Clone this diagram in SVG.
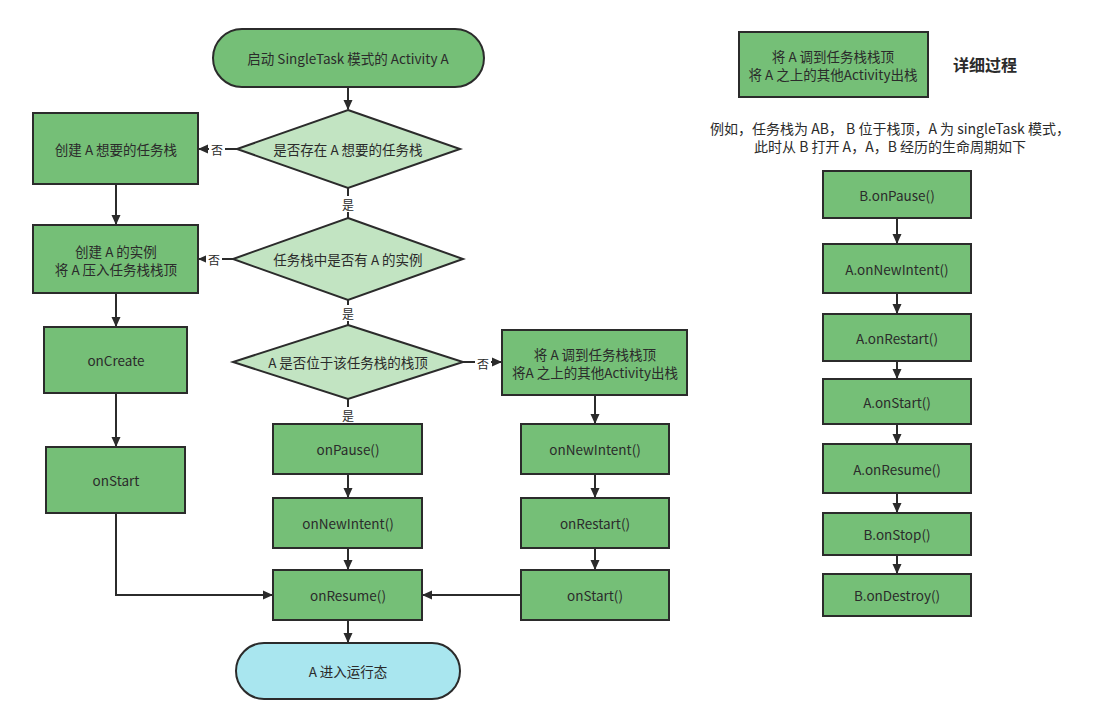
<svg xmlns="http://www.w3.org/2000/svg" width="1095" height="718" viewBox="0 0 1095 718">
<defs>
<marker id="ah" markerWidth="12" markerHeight="12" refX="10" refY="6" orient="auto" markerUnits="userSpaceOnUse">
<path d="M1,1.5 L11,6 L1,10.5 Z" fill="#2b2b2b"/>
</marker>
<style>
.box{fill:#75bf77;stroke:#2b2b2b;stroke-width:2}
.dia{fill:#c2e4c2;stroke:#2b2b2b;stroke-width:2}
.term{fill:#75bf77;stroke:#2b2b2b;stroke-width:2}
.term2{fill:#a9e6ef;stroke:#2b2b2b;stroke-width:2}
text{font-family:"Noto Sans CJK SC","Noto Sans",sans-serif;font-size:13.5px;fill:#2b2b2b;text-anchor:middle;dominant-baseline:central}
.lbl{font-size:12px}
.desc{font-size:14px}
.title{font-size:16px;font-weight:bold}
.ln{fill:none;stroke:#2b2b2b;stroke-width:2}
.ar{fill:none;stroke:#2b2b2b;stroke-width:2;marker-end:url(#ah)}
.bg{fill:#ffffff}
</style>
</defs>

<g id="connectors">
<path class="ar" d="M348,87 L348,109"/>
<path class="ar" d="M237,149 L199,149"/>
<path class="ar" d="M116,184 L116,224"/>
<path class="ln" d="M348,188 L348,218"/>
<path class="ar" d="M233,259 L199,259"/>
<path class="ar" d="M116,293 L116,326"/>
<path class="ln" d="M348,300 L348,325"/>
<path class="ar" d="M116,393 L116,446"/>
<path class="ar" d="M116,513 L116,595 L272,595"/>
<path class="ar" d="M463,362 L501,362"/>
<path class="ln" d="M348,399 L348,424"/>
<path class="ar" d="M348,474 L348,497"/>
<path class="ar" d="M348,548 L348,569"/>
<path class="ar" d="M348,620 L348,642"/>
<path class="ar" d="M595,395 L595,423"/>
<path class="ar" d="M595,474 L595,497"/>
<path class="ar" d="M595,548 L595,569"/>
<path class="ar" d="M521,595 L423,595"/>
<path class="ar" d="M897,218 L897,243"/>
<path class="ar" d="M897,293 L897,313"/>
<path class="ar" d="M897,361 L897,378"/>
<path class="ar" d="M897,424 L897,443"/>
<path class="ar" d="M897,493 L897,512"/>
<path class="ar" d="M897,555 L897,573"/>
<rect class="bg" x="209" y="141" width="16" height="16"/>
<text class="lbl" x="217" y="149">否</text>
<rect class="bg" x="206" y="251" width="16" height="16"/>
<text class="lbl" x="214" y="259">否</text>
<rect class="bg" x="340" y="196" width="16" height="16"/>
<text class="lbl" x="348" y="204">是</text>
<rect class="bg" x="340" y="305" width="16" height="16"/>
<text class="lbl" x="348" y="313">是</text>
<rect class="bg" x="340" y="407" width="16" height="16"/>
<text class="lbl" x="348" y="415">是</text>
<rect class="bg" x="475" y="354" width="16" height="16"/>
<text class="lbl" x="483" y="363">否</text>
</g>

<g id="start">
<rect class="term" x="213" y="29" width="271" height="58" rx="29"/>
<text x="348" y="58">启动 SingleTask 模式的 Activity A</text>
</g>
<g id="d1">
<polygon class="dia" points="348,110 460,149 348,188 237,149"/>
<text x="348" y="149">是否存在 A 想要的任务栈</text>
</g>
<g id="createStack">
<rect class="box" x="33" y="113" width="165" height="71"/>
<text x="116" y="149">创建 A 想要的任务栈</text>
</g>
<g id="d2">
<polygon class="dia" points="348,218 463,259 348,300 233,259"/>
<text x="348" y="259">任务栈中是否有 A 的实例</text>
</g>
<g id="createInst">
<rect class="box" x="33" y="225" width="165" height="68"/>
<text x="116" y="251">创建 A 的实例</text>
<text x="116" y="269">将 A 压入任务栈栈顶</text>
</g>
<g id="onCreate">
<rect class="box" x="44" y="327" width="143" height="66"/>
<text x="116" y="360">onCreate</text>
</g>
<g id="onStartL">
<rect class="box" x="46" y="447" width="139" height="66"/>
<text x="116" y="480">onStart</text>
</g>
<g id="d3">
<polygon class="dia" points="348,325 463,362 348,399 233,362"/>
<text x="348" y="362">A 是否位于该任务栈的栈顶</text>
</g>
<g id="moveTop">
<rect class="box" x="502" y="330" width="185" height="65"/>
<text x="595" y="354">将 A 调到任务栈栈顶</text>
<text x="595" y="372">将A 之上的其他Activity出栈</text>
</g>
<g id="onPause">
<rect class="box" x="273" y="424" width="149" height="50"/>
<text x="348" y="449">onPause()</text>
</g>
<g id="onNewIntentM">
<rect class="box" x="273" y="498" width="149" height="50"/>
<text x="348" y="523">onNewIntent()</text>
</g>
<g id="onResume">
<rect class="box" x="273" y="570" width="149" height="50"/>
<text x="348" y="595">onResume()</text>
</g>
<g id="onNewIntentR">
<rect class="box" x="521" y="424" width="148" height="50"/>
<text x="595" y="449">onNewIntent()</text>
</g>
<g id="onRestartR">
<rect class="box" x="521" y="498" width="148" height="50"/>
<text x="595" y="523">onRestart()</text>
</g>
<g id="onStartR">
<rect class="box" x="521" y="570" width="148" height="50"/>
<text x="595" y="595">onStart()</text>
</g>
<g id="end">
<rect class="term2" x="236" y="643" width="224" height="56" rx="28"/>
<text x="348" y="671">A 进入运行态</text>
</g>

<g id="detailBox">
<rect class="box" x="739" y="32" width="189" height="65"/>
<text x="833" y="56">将 A 调到任务栈栈顶</text>
<text x="833" y="74">将 A 之上的其他Activity出栈</text>
</g>
<g id="detailTitle">
<text class="title" x="985" y="64">详细过程</text>
</g>
<g id="desc">
<text class="desc" x="890" y="128">例如，任务栈为 AB， B 位于栈顶，A 为 singleTask 模式，</text>
<text class="desc" x="890" y="146">此时从 B 打开 A，A，B 经历的生命周期如下</text>
</g>
<g id="r1"><rect class="box" x="823" y="171" width="148" height="47"/><text x="897" y="195">B.onPause()</text></g>
<g id="r2"><rect class="box" x="823" y="244" width="148" height="49"/><text x="897" y="269">A.onNewIntent()</text></g>
<g id="r3"><rect class="box" x="823" y="314" width="148" height="47"/><text x="897" y="338">A.onRestart()</text></g>
<g id="r4"><rect class="box" x="823" y="379" width="148" height="45"/><text x="897" y="402">A.onStart()</text></g>
<g id="r5"><rect class="box" x="823" y="444" width="148" height="49"/><text x="897" y="469">A.onResume()</text></g>
<g id="r6"><rect class="box" x="823" y="513" width="148" height="42"/><text x="897" y="534">B.onStop()</text></g>
<g id="r7"><rect class="box" x="823" y="574" width="148" height="42"/><text x="897" y="595">B.onDestroy()</text></g>
</svg>
